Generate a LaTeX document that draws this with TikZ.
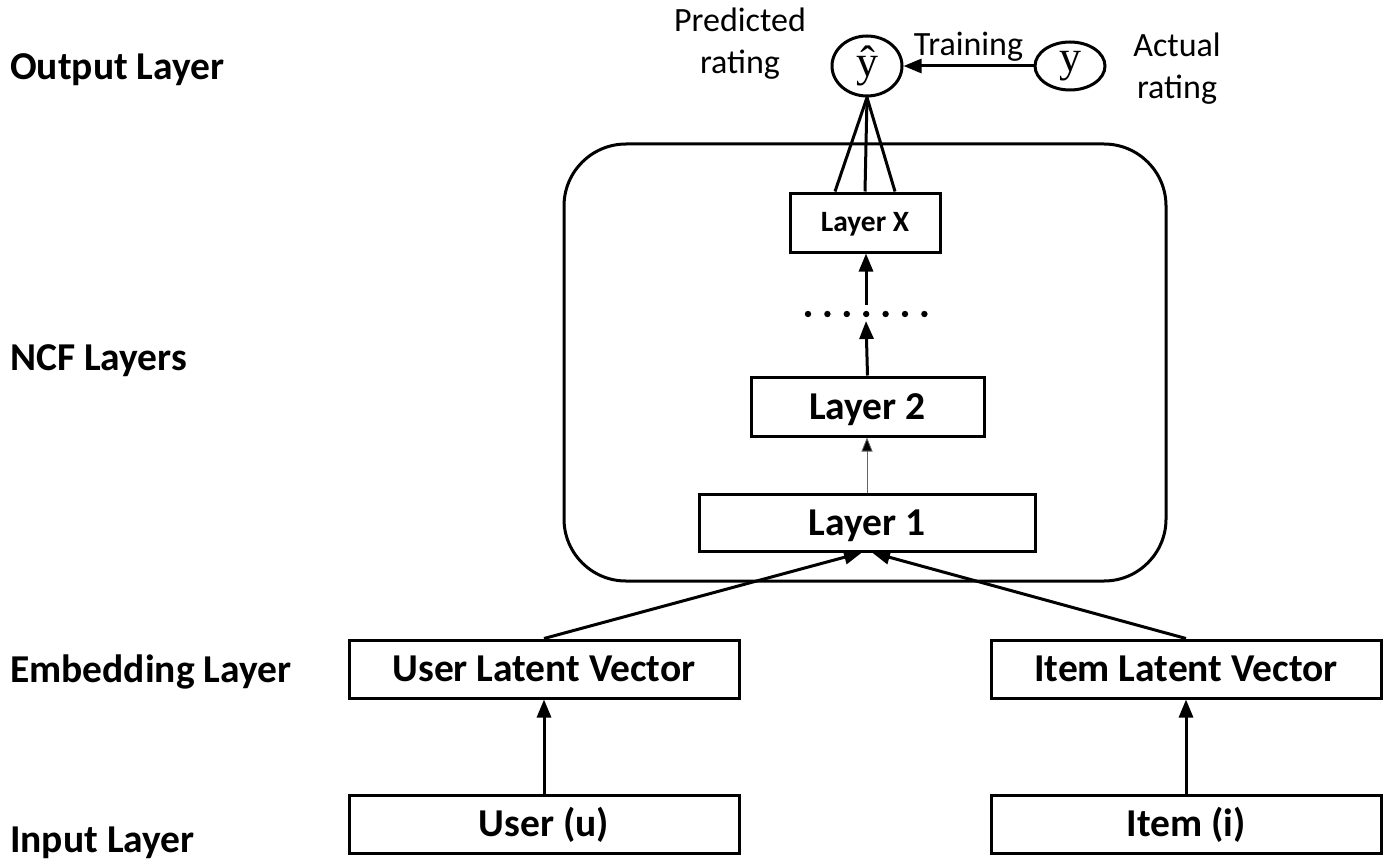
\documentclass[tikz,border=0pt]{standalone}
\usepackage{fontspec}
\setmainfont{Carlito}
\newfontfamily\timesf{Liberation Serif}
\usetikzlibrary{arrows.meta,calc,shapes.geometric}
\begin{document}
\begin{tikzpicture}[x=1pt,y=-1pt,
  box/.style={draw,line width=3pt,rectangle,inner sep=0pt,minimum height=58pt,text height=25.4pt,text depth=0pt,font=\fontsize{39.5}{41}\selectfont\bfseries},
  lbl/.style={anchor=west,inner sep=0pt,text height=25.4pt,text depth=0pt,font=\fontsize{39.5}{41}\selectfont\bfseries},
  note/.style={inner sep=0pt,align=center,font=\fontsize{34}{42}\selectfont},
  circ/.style={draw,line width=3pt,ellipse,inner sep=0pt,font=\fontsize{44}{44}\selectfont\timesf},
  arr/.style={line width=3pt,-{Triangle[width=14pt,length=18pt]}},
  thinarr/.style={line width=0.8pt,draw=black!60,-{Triangle[width=11pt,length=14pt,fill=black]}},
  conn/.style={line width=3pt}]
\useasboundingbox (0,0) rectangle (1388,861);
\fill[white] (0,0) rectangle (1388,861);
% left labels
\node[lbl] (lo) at (10,67) {Output Layer};
\node[lbl] (ln) at (10,358) {NCF Layers};
\node[lbl] (le) at (10,670) {Embedding Layer};
\node[lbl] (li) at (10,840) {Input Layer};
% container
\draw[line width=3pt,rounded corners=62pt] (564,144) rectangle (1166,581);
% boxes
\node[box,minimum width=150pt,minimum height=59pt,text height=18.9pt,font=\fontsize{29.5}{30}\selectfont\bfseries] (LX) at (865,222.5) {Layer X};
\node[box,minimum width=233pt,minimum height=59pt] (L2) at (867.5,406.5) {Layer 2};
\node[box,minimum width=336pt,minimum height=57pt] (L1) at (867,522.5) {Layer 1};
\node[box,minimum width=390pt] (ULV) at (544,669) {User Latent Vector};
\node[box,minimum width=390pt] (ILV) at (1186,669) {Item Latent Vector};
\node[box,minimum width=390pt] (U) at (544,824) {User (u)};
\node[box,minimum width=390pt] (I) at (1186,824) {Item (i)};
% dots
\foreach \i in {0,...,6} {\fill ({808+19.4*\i},314) circle (3.2pt);}
\coordinate (dotsT) at (866,305);
\coordinate (dotsB) at (866,321);
% output circles
\node[circ,minimum width=70pt,minimum height=60pt] (yh) at (867,66) {ŷ};
\node[circ,minimum width=70pt,minimum height=48pt] (y) at (1070,66) {y};
\node[note] (pr) at (740,44) {Predicted\\rating};
\node[note] (ar) at (1177,69) {Actual\\rating};
% connectors
\draw[arr] (y.west) -- node[note,above=3pt] (tr) {Training} (yh.east);
\draw[conn] (yh.south) -- ($(LX.north)+(-30,0)$);
\draw[conn] (yh.south) -- (LX.north);
\draw[conn] (yh.south) -- ($(LX.north)+(30,0)$);
\draw[arr] (dotsT) -- (dotsT |- LX.south);
\draw[arr] (L2.north) -- (dotsB);
\draw[thinarr] (L1.north) -- (L1.north |- L2.south);
\draw[arr] (ULV.north) -- ($(L1.south)+(-5,0)$);
\draw[arr] (ILV.north) -- ($(L1.south)+(5,0)$);
\draw[arr] (U.north) -- (ULV.south);
\draw[arr] (I.north) -- (ILV.south);
\end{tikzpicture}
\end{document}
